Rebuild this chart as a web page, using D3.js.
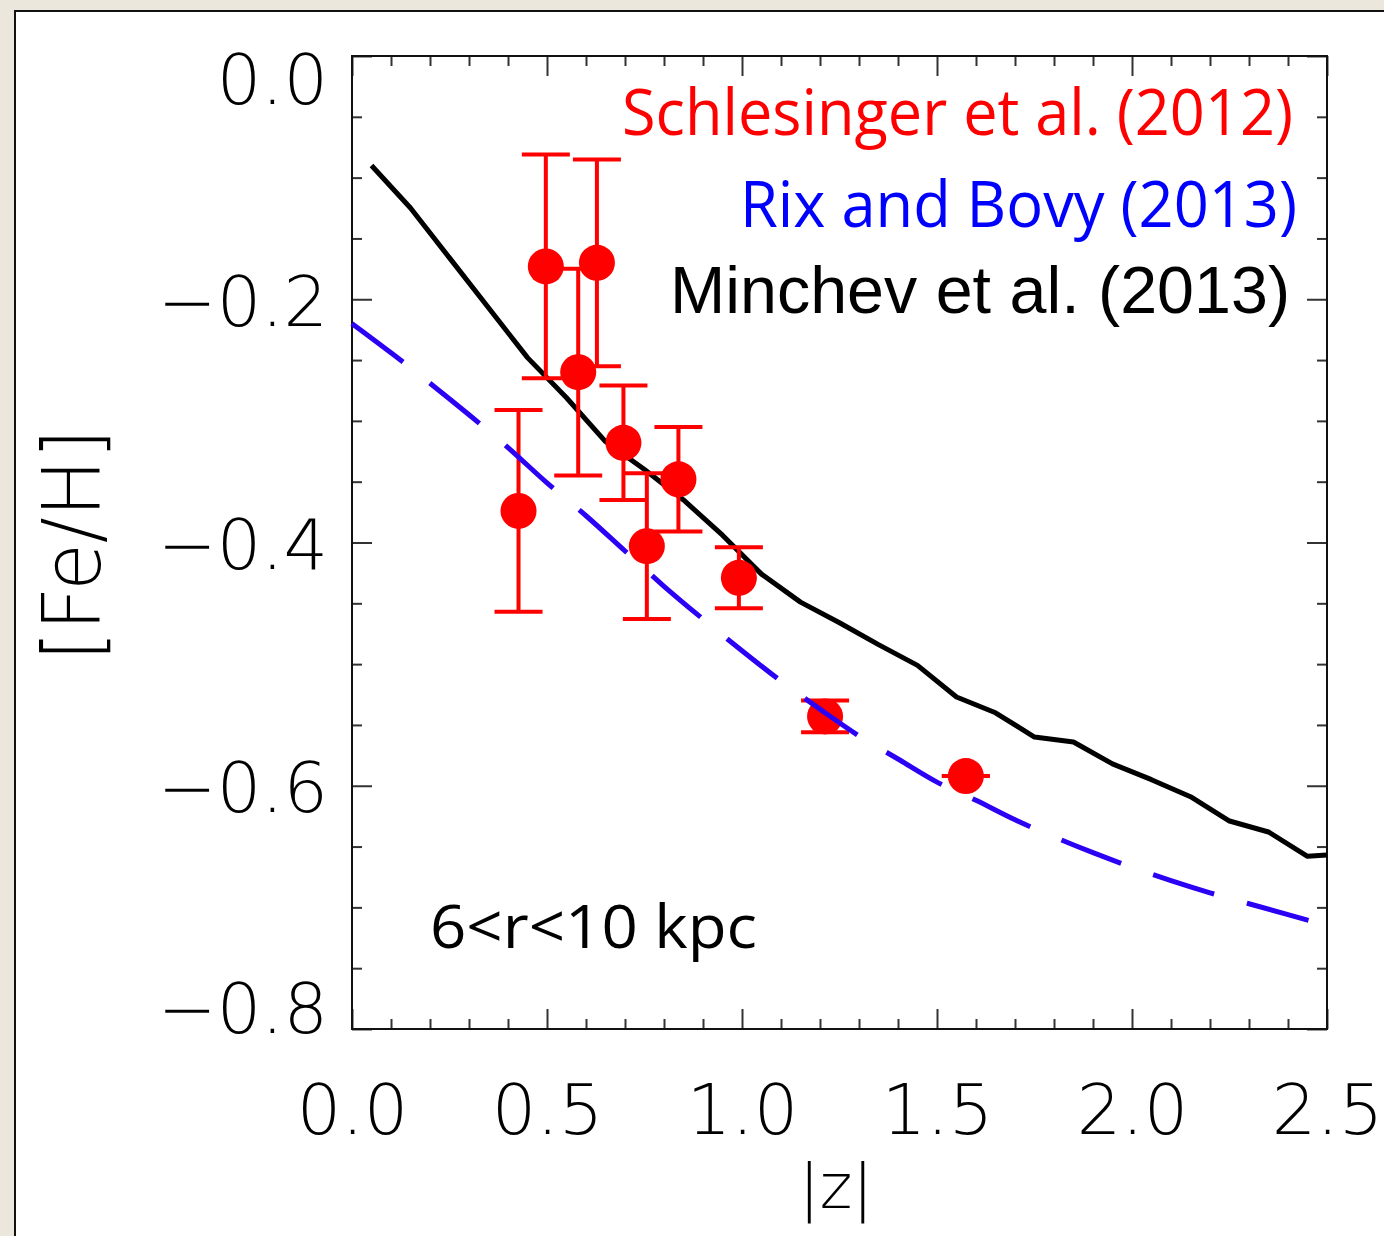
<!DOCTYPE html>
<html>
<head>
<meta charset="utf-8">
<script src="https://cdn.jsdelivr.net/npm/d3@7/dist/d3.min.js"></script>
<style>
  html, body { margin: 0; padding: 0; background: #ebe7dc; }
  svg { display: block; }
</style>
</head>
<body>
<svg id="chart" width="1384" height="1236"></svg>
<script>
// ---- Data ----
// Schlesinger et al. (2012) measurements
const schZ   = [0.427, 0.497, 0.580, 0.628, 0.696, 0.756, 0.837, 0.992, 1.213, 1.574];
const schFeH = [-0.374, -0.173, -0.260, -0.170, -0.318, -0.403, -0.348, -0.429, -0.543, -0.592];
const schErr = [0.083, 0.092, 0.085, 0.085, 0.047, 0.060, 0.043, 0.025, 0.013, 0.0];

// Minchev et al. (2013) model
const minZ   = [0.05, 0.15, 0.25, 0.35, 0.45, 0.55, 0.65, 0.75, 0.85, 0.95, 1.05, 1.15, 1.25,
                1.35, 1.45, 1.55, 1.65, 1.75, 1.85, 1.95, 2.05, 2.15, 2.25, 2.35, 2.45, 2.50];
const minFeH = [-0.090, -0.125, -0.166, -0.207, -0.248, -0.281, -0.317, -0.340, -0.365, -0.394,
                -0.426, -0.449, -0.466, -0.484, -0.501, -0.527, -0.540, -0.560, -0.564, -0.582,
                -0.595, -0.609, -0.629, -0.638, -0.658, -0.657];

// Rix and Bovy (2013)
const rbZ   = [0.0, 0.1, 0.2, 0.3, 0.4, 0.5, 0.6, 0.7, 0.8, 0.9, 1.0, 1.1, 1.2, 1.3, 1.4,
               1.5, 1.6, 1.7, 1.8, 1.9, 2.0, 2.1, 2.2, 2.3, 2.4, 2.5];
const rbFeH = [-0.220, -0.244, -0.269, -0.295, -0.322, -0.351, -0.378, -0.407, -0.436, -0.463,
               -0.489, -0.514, -0.537, -0.559, -0.578, -0.597, -0.612, -0.628, -0.642, -0.655,
               -0.667, -0.678, -0.688, -0.697, -0.706, -0.715];

// Axes ticks and labels
const xMajor = [0.0, 0.5, 1.0, 1.5, 2.0, 2.5];
const xMinor = [0.1, 0.2, 0.3, 0.4, 0.6, 0.7, 0.8, 0.9, 1.1, 1.2, 1.3, 1.4,
                1.6, 1.7, 1.8, 1.9, 2.1, 2.2, 2.3, 2.4];
const yMajor = [0.0, -0.2, -0.4, -0.6, -0.8];
const yMinor = [-0.05, -0.1, -0.15, -0.25, -0.3, -0.35, -0.45, -0.5, -0.55, -0.65, -0.7, -0.75];

const legendLabels = ["Schlesinger et al. (2012)", "Rix and Bovy (2013)", "Minchev et al. (2013)"];
const regionLabel = "6<r<10 kpc";
const xTitle = "|z|";
const yTitle = "[Fe/H]";

// ---- Layout ----
const W = 1384, H = 1236;
const L = 352, R = 1327, T = 56, B = 1029;
const svg = d3.select("#chart");

// paper background + white panel
svg.append("rect").attr("width", W).attr("height", H).attr("fill", "#ebe7dc");
svg.append("rect").attr("x", 14).attr("y", 10).attr("width", W).attr("height", H).attr("fill", "#ffffff");
svg.append("path").attr("d", `M15,${H} V11 H${W}`).attr("fill", "none").attr("stroke", "#111").attr("stroke-width", 2);

const x = d3.scaleLinear().domain([0, 2.5]).range([L, R]);
const y = d3.scaleLinear().domain([0, -0.8]).range([T, B]);

const thinFont = "'DejaVu Sans', sans-serif";
const tickCol = "#333";

function styleAxis(g) {
  g.select(".domain").remove();
  g.selectAll(".tick line").attr("stroke", tickCol).attr("stroke-width", 2);
}

// minor ticks
svg.append("g").attr("transform", `translate(0,${B})`)
  .call(d3.axisBottom(x).tickValues(xMinor).tickSize(-10).tickFormat("")).call(styleAxis);
svg.append("g").attr("transform", `translate(0,${T})`)
  .call(d3.axisTop(x).tickValues(xMinor).tickSize(-10).tickFormat("")).call(styleAxis);
svg.append("g").attr("transform", `translate(${L},0)`)
  .call(d3.axisLeft(y).tickValues(yMinor).tickSize(-10).tickFormat("")).call(styleAxis);
svg.append("g").attr("transform", `translate(${R},0)`)
  .call(d3.axisRight(y).tickValues(yMinor).tickSize(-10).tickFormat("")).call(styleAxis);

// major ticks
const fmt = d3.format(".1f");
const gxb = svg.append("g").attr("transform", `translate(0,${B})`)
  .call(d3.axisBottom(x).tickValues(xMajor).tickSize(-20).tickPadding(55).tickFormat(fmt)).call(styleAxis);
svg.append("g").attr("transform", `translate(0,${T})`)
  .call(d3.axisTop(x).tickValues(xMajor).tickSize(-20).tickFormat("")).call(styleAxis);
const gyl = svg.append("g").attr("transform", `translate(${L},0)`)
  .call(d3.axisLeft(y).tickValues(yMajor).tickSize(-20).tickPadding(24).tickFormat(fmt)).call(styleAxis);
svg.append("g").attr("transform", `translate(${R},0)`)
  .call(d3.axisRight(y).tickValues(yMajor).tickSize(-20).tickFormat("")).call(styleAxis);

gxb.selectAll(".tick text")
  .attr("font-family", thinFont).attr("font-weight", 200).attr("font-size", 70)
  .attr("fill", "#000");
gyl.selectAll(".tick text")
  .attr("font-family", thinFont).attr("font-weight", 200).attr("font-size", 70)
  .attr("fill", "#000")
  .attr("dy", d => d === 0 ? "0.68em" : (d === -0.8 ? "0.05em" : "0.37em"));

// plot frame
svg.append("rect").attr("x", L).attr("y", T).attr("width", R - L).attr("height", B - T)
  .attr("fill", "none").attr("stroke", "#111").attr("stroke-width", 2);

// ---- Minchev line ----
const minData = minZ.map((z, i) => [z, minFeH[i]]);
svg.append("path").datum(minData)
  .attr("d", d3.line().x(d => x(d[0])).y(d => y(d[1])))
  .attr("fill", "none").attr("stroke", "#000").attr("stroke-width", 5)
  .attr("stroke-linejoin", "round");

// ---- Schlesinger points ----
const sch = schZ.map((z, i) => ({ z, f: schFeH[i], e: schErr[i] }));
const gp = svg.append("g").attr("fill", "#ff0000").attr("stroke", "#ff0000");
const capW = 24;
gp.selectAll("line.v").data(sch).join("line").attr("class", "v")
  .attr("x1", d => x(d.z)).attr("x2", d => x(d.z))
  .attr("y1", d => y(d.f + d.e)).attr("y2", d => y(d.f - d.e))
  .attr("stroke-width", 4);
gp.selectAll("line.ct").data(sch).join("line").attr("class", "ct")
  .attr("x1", d => x(d.z) - capW).attr("x2", d => x(d.z) + capW)
  .attr("y1", d => y(d.f + d.e)).attr("y2", d => y(d.f + d.e))
  .attr("stroke-width", 4);
gp.selectAll("line.cb").data(sch).join("line").attr("class", "cb")
  .attr("x1", d => x(d.z) - capW).attr("x2", d => x(d.z) + capW)
  .attr("y1", d => y(d.f - d.e)).attr("y2", d => y(d.f - d.e))
  .attr("stroke-width", 4);
gp.selectAll("circle").data(sch).join("circle")
  .attr("cx", d => x(d.z)).attr("cy", d => y(d.f)).attr("r", 18).attr("stroke", "none");

// ---- Rix & Bovy dashed line ----
const rbData = rbZ.map((z, i) => [z, rbFeH[i]]);
svg.append("path").datum(rbData)
  .attr("d", d3.line().x(d => x(d[0])).y(d => y(d[1])).curve(d3.curveMonotoneX))
  .attr("fill", "none").attr("stroke", "#2c00f5").attr("stroke-width", 5)
  .attr("stroke-dasharray", "64,34");

// ---- Legend texts ----
const humanist = "'Open Sans', 'Noto Sans', sans-serif";
svg.append("text").text(legendLabels[0])
  .attr("x", 1293).attr("y", 135).attr("text-anchor", "end")
  .attr("font-family", humanist).attr("font-size", 64).attr("fill", "#ff0000")
  .attr("textLength", 671).attr("lengthAdjust", "spacingAndGlyphs");
svg.append("text").text(legendLabels[1])
  .attr("x", 1297).attr("y", 227).attr("text-anchor", "end")
  .attr("font-family", humanist).attr("font-size", 64).attr("fill", "#0000ff")
  .attr("textLength", 557).attr("lengthAdjust", "spacingAndGlyphs");
svg.append("text").text(legendLabels[2])
  .attr("x", 1290).attr("y", 313).attr("text-anchor", "end")
  .attr("font-family", "'Liberation Sans', Arial, sans-serif").attr("font-size", 66).attr("fill", "#000")
  .attr("textLength", 620).attr("lengthAdjust", "spacingAndGlyphs");

svg.append("text").text(regionLabel)
  .attr("x", 430).attr("y", 948)
  .attr("font-family", humanist).attr("font-size", 60).attr("fill", "#000")
  .attr("textLength", 327).attr("lengthAdjust", "spacingAndGlyphs");

// ---- Axis titles ----
svg.append("text").text(xTitle)
  .attr("x", 836).attr("y", 1208).attr("text-anchor", "middle")
  .attr("font-family", thinFont).attr("font-weight", 200).attr("font-size", 62).attr("fill", "#000");
svg.append("text").text(yTitle)
  .attr("transform", "translate(100,545) rotate(-90)")
  .attr("text-anchor", "middle")
  .attr("font-family", thinFont).attr("font-weight", 200).attr("font-size", 80).attr("fill", "#000")
  .attr("textLength", 232).attr("lengthAdjust", "spacingAndGlyphs");
</script>
</body>
</html>
